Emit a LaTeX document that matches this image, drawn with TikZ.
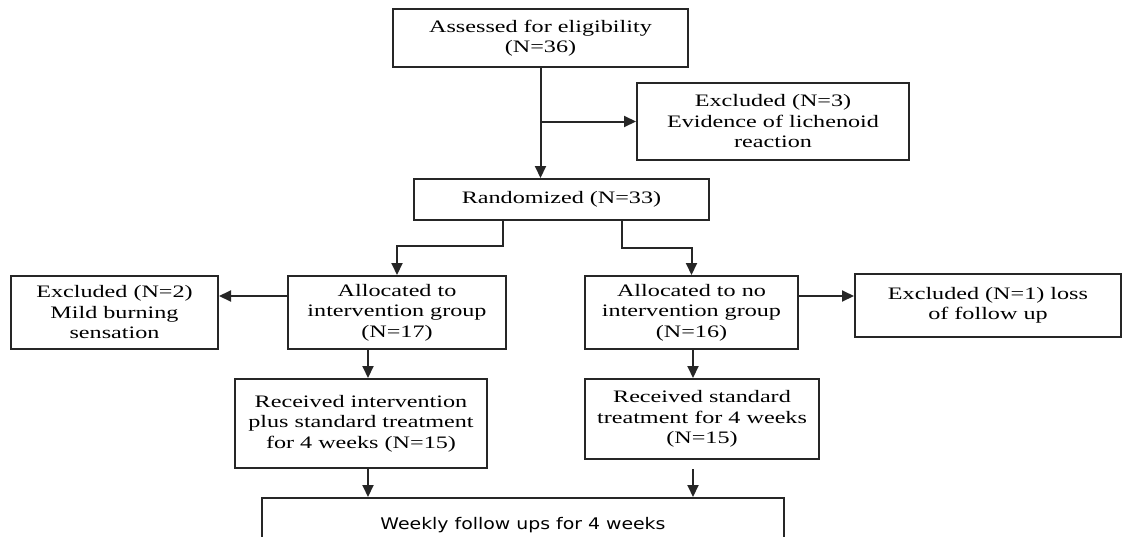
\documentclass[tikz,border=0pt]{standalone}
\usepackage{fontspec}
\setmainfont{Liberation Serif}[FakeStretch=1.38]
\newfontfamily\weeklyfont{DejaVu Sans}[FakeStretch=1.18]
\usepackage{tikz}
\usetikzlibrary{shapes, arrows.meta, positioning}
\usetikzlibrary{calc}

\begin{document}
\begin{tikzpicture}
  [
    x=1pt, y=-1pt,
    Box/.style={rectangle, draw=black!85, line width=2pt, align=center, inner sep=2pt, font=\fontsize{17.5}{20.5}\selectfont},
    Arrow/.style={-{Triangle[length=12pt, width=11pt]}, draw=black!85, line width=2pt}
  ]
  \useasboundingbox (0, 0) rectangle (1122, 536);
  \clip (0, 0) rectangle (1122, 536);
  % Nodes
  \node[Box, minimum width=295pt, minimum height=58pt] (assess) at (540.5, 38) {Assessed for eligibility\\(N=36)};
  \node[Box, minimum width=272pt, minimum height=77pt] (excl3) at (773, 121.5) {Excluded (N=3)\\Evidence of lichenoid\\reaction};
  \node[Box, minimum width=295pt, minimum height=41pt] (rand) at (561.5, 199.5) {Randomized (N=33)};
  \node[Box, minimum width=207pt, minimum height=73pt] (excl2) at (114.5, 312.5) {Excluded (N=2)\\Mild burning\\sensation};
  \node[Box, minimum width=218pt, minimum height=73pt] (allocI) at (397, 312.5) {Allocated to\\intervention group\\(N=17)};
  \node[Box, minimum width=213pt, minimum height=73pt] (allocN) at (691.5, 312.5) {Allocated to no\\intervention group\\(N=16)};
  \node[Box, minimum width=266pt, minimum height=63pt] (excl1) at (988, 305.5) {Excluded (N=1) loss\\of follow up};
  \node[Box, minimum width=252pt, minimum height=89pt] (recvI) at (361, 423.5) {Received intervention\\plus standard treatment\\for 4 weeks (N=15)};
  \node[Box, minimum width=234pt, minimum height=80pt] (recvN) at (702, 419) {Received standard\\treatment for 4 weeks\\(N=15)};
  \node[Box, minimum width=522pt, minimum height=54pt, font=\weeklyfont\fontsize{16}{19}\selectfont] (weekly) at (523, 525) {Weekly follow ups for 4 weeks};
  % Elbows
  \coordinate (splitL) at (503, 246);
  \coordinate (splitR) at (622, 248);
  \coordinate (colI) at (368, 0);
  \coordinate (colN) at (693, 0);
  \coordinate (branch) at (assess.south |- excl3.west);
  \coordinate (outI) at ([yshift=16.5]allocI.west);
  \coordinate (outN) at ([yshift=16.5]allocN.east);
  % Lines
  \path [Arrow] (assess.south) -- (assess.south |- rand.north);
  \path [Arrow] (branch) -- (excl3.west);
  \path [Arrow] (rand.south -| splitL) -- (splitL) -| (allocI.north);
  \path [Arrow] (rand.south -| splitR) -- (splitR) -| (allocN.north);
  \path [Arrow] (outI) -- (outI -| excl2.east);
  \path [Arrow] (outN) -- (outN -| excl1.west);
  \path [Arrow] (allocI.south -| colI) -- (recvI.north -| colI);
  \path [Arrow] (allocN.south -| colN) -- (recvN.north -| colN);
  \path [Arrow] (recvI.south -| colI) -- (weekly.north -| colI);
  \path [Arrow] (recvI.south -| colN) -- (weekly.north -| colN);
\end{tikzpicture}
\end{document}
